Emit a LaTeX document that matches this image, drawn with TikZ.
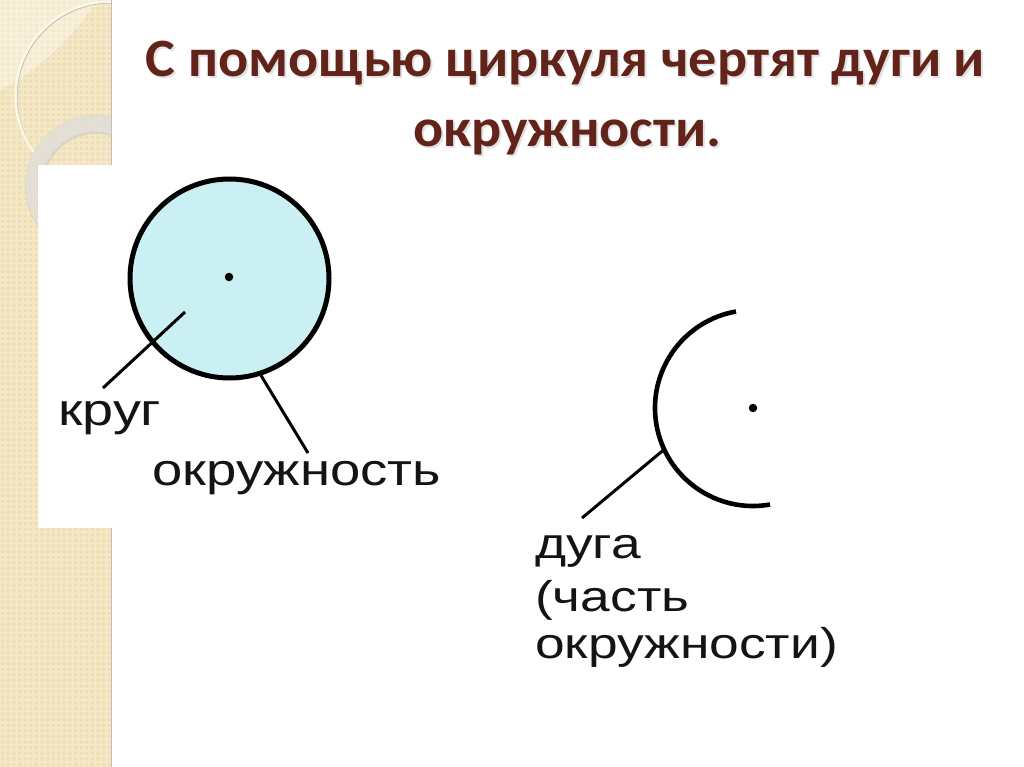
\documentclass[tikz,border=0pt]{standalone}
\usepackage{fontspec}
\usepackage{graphicx}
\setmainfont{Liberation Sans}
\newfontfamily\titlefont{Carlito}
\definecolor{strip}{RGB}{245,232,198}
\definecolor{stripdot}{RGB}{233,214,170}
\definecolor{cream}{RGB}{252,246,228}
\definecolor{ringgray}{RGB}{228,224,214}
\definecolor{titlebrown}{RGB}{98,36,26}
\definecolor{discfill}{RGB}{202,240,243}
\newcommand{\widetext}[2][1.24]{\scalebox{#1}[1]{#2}}
\newcommand{\widetitle}[1]{\scalebox{1.04}[1]{#1}}
\tikzset{
  titletext/.style={font=\titlefont\bfseries\fontsize{54}{60}\selectfont, text=titlebrown, inner sep=0pt},
  titleshadow/.style={font=\titlefont\bfseries\fontsize{54}{60}\selectfont, text=black!25, opacity=0.45, inner sep=0pt},
  labeltext/.style={font=\fontsize{45}{48}\selectfont, text=black!92, inner sep=0pt, anchor=base west},
  arclabel/.style={font=\fontsize{43}{48}\selectfont, text=black!92, inner sep=0pt, anchor=base west},
  disc/.style={circle, draw=black, line width=5pt, fill=discfill, minimum size=199pt, inner sep=0pt},
  centerdot/.style={circle, fill=black, minimum size=8.5pt, inner sep=0pt},
  leader/.style={draw=black, line width=3pt},
  arcline/.style={draw=black, line width=4.6pt}
}
\begin{document}
\begin{tikzpicture}[x=1pt,y=-1pt]
\useasboundingbox (0,0) rectangle (1024,767);
\fill[white] (0,0) rectangle (1024,767);
% decorative strip
\fill[strip] (0,0) rectangle (112,767);
\begin{scope}
\clip (0,0) rectangle (111,767);
\foreach \i in {0,...,19}{
  \foreach \j in {0,...,137}{
    \draw[stripdot, line width=0.5pt] (\i*5.6+2.8, \j*5.6+2.8) circle (1.5);
  }
}
\fill[white, opacity=0.35] (0,0) -- (0,90) .. controls (35,72) and (72,40) .. (97,0) -- cycle;
\draw[black!25, line width=1pt] (111,97) circle (94);
\draw[cream, line width=2.5pt] (110,96) circle (94.5);
\draw[black!20, line width=19pt, opacity=0.6] (96,186) circle (61.5);
\draw[ringgray, line width=16pt, opacity=0.9] (95,185) circle (61.5);
\end{scope}
\draw[black!25, line width=1.5pt] (111.5,0) -- (111.5,767);
% picture box
\fill[white] (38,165) rectangle (440,528);
% title
\node[titleshadow, anchor=base] at (567.5,79) {\widetitle{С помощью циркуля чертят дуги и}};
\node[titleshadow, anchor=base] at (569.5,149) {\widetitle{окружности.}};
\node[titletext, anchor=base] (t1) at (565.5,77) {\widetitle{С помощью циркуля чертят дуги и}};
\node[titletext, anchor=base] (t2) at (567.5,147) {\widetitle{окружности.}};
% disc
\node[disc] (circ) at (229.5,278.5) {};
\node[centerdot] (c1) at (229,277) {};
\node[labeltext] (krug) at (58,425) {\widetext{круг}};
\node[labeltext] (okr) at (152,485) {\widetext[1.21]{окружность}};
\coordinate (k1) at (185,312);
\coordinate (k2) at (103,388);
\coordinate (o2) at (308,453);
\draw[leader] (k1) -- (k2);
\draw[leader] (circ.-72) -- (o2);
% arc
\coordinate (ac) at (753,408);
\node[centerdot] (c2) at (ac) {};
\draw[arcline] (ac) ++(260:98) arc[start angle=260, end angle=80, radius=98];
\path (ac) ++(155:98) coordinate (a1);
\coordinate (a2) at (582,518);
\draw[leader] (a1) -- (a2);
\node[arclabel] (d1) at (535,558) {\widetext{дуга}};
\node[arclabel] (d2) at (535,611) {\widetext{(часть}};
\node[arclabel] (d3) at (535,658) {\widetext{окружности)}};
\end{tikzpicture}
\end{document}
